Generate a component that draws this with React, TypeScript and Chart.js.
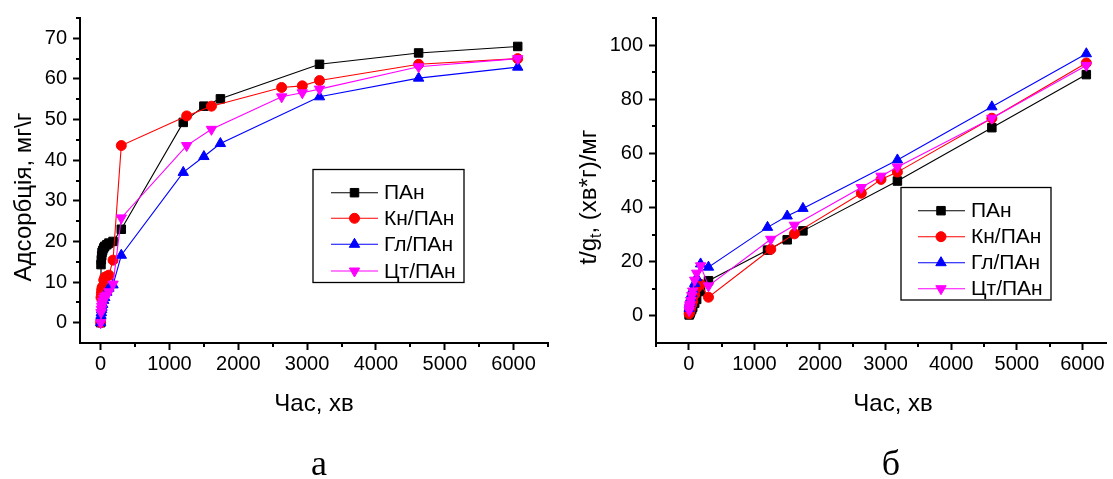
import React, { useEffect, useRef } from 'react';
import { Chart, registerables } from 'chart.js';

Chart.register(...registerables);

const SANS = '"Liberation Sans", Arial, sans-serif';
const SERIF = '"Liberation Serif", "Times New Roman", serif';

// ---------------- data ----------------
const seriesNames = ['ПАн', 'Кн/ПАн', 'Гл/ПАн', 'Цт/ПАн'];
const seriesColors = ['#000000', '#ff0000', '#0000ff', '#ff00ff'];
const seriesMarkers = ['square', 'circle', 'up', 'down'];

// panel а: adsorption (mg/g) vs time (min)
const timeSetA = [0, 5, 10, 15, 20, 30, 45, 60, 90, 120, 180, 300, 1200, 1500, 1740, 3180, 4620, 6060];
const timeSetB = [0, 5, 10, 15, 20, 30, 45, 60, 90, 120, 180, 300, 1250, 1610, 2630, 2930, 3180, 4620, 6060];
const adsPAn = [0, 14.3, 15.5, 16.5, 17.3, 17.8, 18.4, 18.8, 19.2, 19.6, 20.0, 23.0, 49.3, 53.3, 55.1, 63.6, 66.4, 68.0];
const adsKn = [0, 6.2, 7.2, 8.0, 8.6, 8.9, 10.5, 11.2, 11.4, 11.7, 15.4, 43.6, 50.9, 53.3, 57.9, 58.3, 59.6, 63.6, 65.0];
const adsGl = [0, 1.8, 2.5, 3.2, 3.8, 4.5, 5.5, 6.2, 7.5, 8.5, 9.3, 16.6, 37.0, 40.9, 44.1, 55.6, 60.2, 62.9];
const adsCt = [0, 2.5, 3.3, 4.0, 4.6, 5.3, 6.0, 6.5, 6.8, 7.6, 9.5, 25.8, 43.6, 47.6, 55.6, 56.6, 57.5, 63.0, 65.0];

// panel б: t/g_t vs time (min)
const ratioTimeA = [5, 10, 15, 20, 30, 45, 60, 90, 120, 180, 300, 1200, 1500, 1740, 3180, 4620, 6060];
const ratioTimeB = [5, 10, 15, 20, 30, 45, 60, 90, 120, 180, 300, 1250, 1610, 2630, 2930, 3180, 4620, 6060];
const ratioPAn = [0.35, 0.65, 0.9, 1.2, 1.7, 2.4, 3.2, 4.7, 6.1, 9.0, 13.0, 24.3, 28.1, 31.4, 49.8, 69.5, 89.1];
const ratioKn = [0.8, 1.4, 1.9, 2.3, 3.4, 4.3, 5.4, 7.9, 10.3, 11.7, 6.9, 24.6, 30.3, 45.3, 50.4, 53.1, 73.0, 93.4];
const ratioGl = [2.8, 4.0, 4.7, 5.3, 6.7, 8.2, 9.7, 12.0, 14.1, 19.2, 18.0, 32.7, 36.9, 39.7, 57.6, 77.2, 96.8];
const ratioCt = [2.0, 3.0, 3.8, 4.3, 5.7, 7.5, 9.2, 13.2, 15.8, 18.5, 11.1, 28.3, 33.5, 47.4, 51.6, 55.0, 73.0, 92.5];

// ticks
const xMajorTicks = [0, 1000, 2000, 3000, 4000, 5000, 6000];
const leftXMinor = [500, 1500, 2500, 3500, 4500, 5500, 6500];
const rightXMinor = [-500, 500, 1500, 2500, 3500, 4500, 5500];
const leftYTicks = [0, 10, 20, 30, 40, 50, 60, 70];
const leftYMinor = [5, 15, 25, 35, 45, 55, 65, 75];
const rightYTicks = [0, 20, 40, 60, 80, 100];
const rightYMinor = [10, 30, 50, 70, 90, 110];

// ---------------- helpers ----------------
function drawMarker(ctx: CanvasRenderingContext2D, kind: string, x: number, y: number, color: string) {
  ctx.save();
  ctx.fillStyle = color;
  ctx.strokeStyle = color;
  ctx.lineWidth = 1;
  ctx.beginPath();
  if (kind === 'square') {
    const s = 6 * Math.SQRT1_2;
    ctx.rect(x - s, y - s, 2 * s, 2 * s);
  } else if (kind === 'circle') {
    ctx.arc(x, y, 5, 0, Math.PI * 2);
  } else {
    const r = 6;
    let a = kind === 'up' ? 0 : Math.PI;
    for (let i = 0; i < 3; i++) {
      const px = x + Math.sin(a) * r;
      const py = y - Math.cos(a) * r;
      if (i === 0) ctx.moveTo(px, py);
      else ctx.lineTo(px, py);
      a += (2 * Math.PI) / 3;
    }
    ctx.closePath();
  }
  ctx.fill();
  ctx.stroke();
  ctx.restore();
}

function makeDataset(idx: number, xs: number[], ys: number[]) {
  const kind = seriesMarkers[idx];
  const color = seriesColors[idx];
  return {
    label: seriesNames[idx],
    data: xs.map((x, i) => ({ x, y: ys[i] })),
    borderColor: color,
    backgroundColor: color,
    borderWidth: 1.1,
    pointStyle: kind === 'square' ? 'rect' : kind === 'circle' ? 'circle' : 'triangle',
    pointRotation: kind === 'down' ? 180 : 0,
    pointRadius: kind === 'circle' ? 5 : 6,
    pointBackgroundColor: color,
    pointBorderColor: color,
    pointBorderWidth: 1,
    tension: 0,
    order: 3 - idx,
    clip: false,
  };
}

type PanelCfg = {
  width: number;
  height: number;
  left: number;
  areaLeft: number;
  areaRight: number;
  areaTop: number;
  areaBottom: number;
  xMin: number;
  xMax: number;
  yMin: number;
  yMax: number;
  yTicks: number[];
  xMinor: number[];
  yMinor: number[];
  datasets: any[];
  xTitleX: number;
  yTitleX: number;
  yTitleY: number;
  yTitle: 'ads' | 'ratio';
  legend: { x: number; y: number; w: number; h: number; lx1: number; lx2: number; mx: number; tx: number; rows: number[] };
  caption: string;
  captionX: number;
};

function makePlugin(cfg: PanelCfg) {
  return {
    id: 'panelDecor',
    afterDraw(chart: any) {
      const ctx: CanvasRenderingContext2D = chart.ctx;
      const xs = chart.scales.x;
      const ys = chart.scales.y;
      const { left, bottom } = chart.chartArea;
      ctx.save();
      // minor ticks
      ctx.strokeStyle = '#000';
      ctx.lineWidth = 2;
      ctx.beginPath();
      cfg.xMinor.forEach((v) => {
        const p = Math.round(xs.getPixelForValue(v));
        ctx.moveTo(p, bottom);
        ctx.lineTo(p, bottom + 4);
      });
      cfg.yMinor.forEach((v) => {
        const p = Math.round(ys.getPixelForValue(v));
        ctx.moveTo(left, p);
        ctx.lineTo(left - 4, p);
      });
      ctx.stroke();

      // x title
      ctx.fillStyle = '#000';
      ctx.font = '24px ' + SANS;
      ctx.textAlign = 'center';
      ctx.textBaseline = 'alphabetic';
      ctx.fillText('Час, хв', cfg.xTitleX, 411);

      // y title
      ctx.save();
      ctx.translate(cfg.yTitleX, cfg.yTitleY);
      ctx.rotate(-Math.PI / 2);
      ctx.textBaseline = 'alphabetic';
      if (cfg.yTitle === 'ads') {
        ctx.font = '24px ' + SANS;
        ctx.textAlign = 'center';
        ctx.fillText('Адсорбція, мг\\г', 0, 0);
      } else {
        ctx.textAlign = 'left';
        const big = '24px ' + SANS;
        const small = '16px ' + SANS;
        ctx.font = big;
        const w1 = ctx.measureText('t/g').width;
        const w3 = ctx.measureText(', (хв*г)/мг').width;
        ctx.font = small;
        const w2 = ctx.measureText('t').width;
        let x = -(w1 + w2 + w3) / 2;
        ctx.font = big;
        ctx.fillText('t/g', x, 0);
        x += w1;
        ctx.font = small;
        ctx.fillText('t', x, 5);
        x += w2;
        ctx.font = big;
        ctx.fillText(', (хв*г)/мг', x, 0);
      }
      ctx.restore();

      // legend
      const L = cfg.legend;
      ctx.fillStyle = '#fff';
      ctx.fillRect(L.x, L.y, L.w, L.h);
      ctx.strokeStyle = '#000';
      ctx.lineWidth = 1.3;
      ctx.strokeRect(L.x, L.y, L.w, L.h);
      L.rows.forEach((ry, i) => {
        ctx.strokeStyle = seriesColors[i];
        ctx.lineWidth = 1.1;
        ctx.beginPath();
        ctx.moveTo(L.lx1, ry);
        ctx.lineTo(L.lx2, ry);
        ctx.stroke();
        drawMarker(ctx, seriesMarkers[i], L.mx, ry, seriesColors[i]);
        ctx.fillStyle = '#000';
        ctx.font = '21px ' + SANS;
        ctx.textAlign = 'left';
        ctx.textBaseline = 'middle';
        ctx.fillText(seriesNames[i], L.tx, ry + 1);
      });

      // caption
      ctx.fillStyle = '#000';
      ctx.font = '36px ' + SERIF;
      ctx.textAlign = 'center';
      ctx.textBaseline = 'alphabetic';
      ctx.fillText(cfg.caption, cfg.captionX, 475);
      ctx.restore();
    },
  };
}

function Panel({ cfg }: { cfg: PanelCfg }) {
  const ref = useRef<HTMLCanvasElement | null>(null);
  useEffect(() => {
    if (!ref.current) return;
    const chart = new Chart(ref.current, {
      type: 'line',
      data: { datasets: cfg.datasets },
      options: {
        animation: false,
        responsive: false,
        devicePixelRatio: 1,
        layout: { padding: { left: 0, top: cfg.areaTop, right: cfg.width - cfg.areaRight, bottom: 0 } },
        plugins: { legend: { display: false }, tooltip: { enabled: false }, title: { display: false } },
        scales: {
          x: {
            type: 'linear',
            min: cfg.xMin,
            max: cfg.xMax,
            afterBuildTicks: (s: any) => {
              s.ticks = xMajorTicks.map((v) => ({ value: v }));
            },
            afterFit: (s: any) => {
              s.height = cfg.height - cfg.areaBottom;
            },
            ticks: {
              font: { family: SANS, size: 20 },
              color: '#000',
              padding: 2,
              maxRotation: 0,
              autoSkip: false,
              callback: (v: any) => String(v),
            },
            grid: { display: true, drawOnChartArea: false, drawTicks: true, tickLength: 7, tickWidth: 2, tickColor: '#000', color: '#000' },
            border: { display: true, color: '#000', width: 2 },
          },
          y: {
            type: 'linear',
            min: cfg.yMin,
            max: cfg.yMax,
            afterBuildTicks: (s: any) => {
              s.ticks = cfg.yTicks.map((v) => ({ value: v }));
            },
            afterFit: (s: any) => {
              s.width = cfg.areaLeft;
            },
            ticks: {
              font: { family: SANS, size: 20 },
              color: '#000',
              padding: 6,
              autoSkip: false,
              callback: (v: any) => String(v),
            },
            grid: { display: true, drawOnChartArea: false, drawTicks: true, tickLength: 7, tickWidth: 2, tickColor: '#000', color: '#000' },
            border: { display: true, color: '#000', width: 2 },
          },
        },
      } as any,
      plugins: [makePlugin(cfg)],
    });
    return () => chart.destroy();
  }, [cfg]);
  return (
    <canvas
      ref={ref}
      width={cfg.width}
      height={cfg.height}
      style={{ position: 'absolute', left: cfg.left, top: 0, width: cfg.width, height: cfg.height }}
    />
  );
}

const leftCfg: PanelCfg = {
  width: 556,
  height: 479,
  left: 0,
  areaLeft: 80,
  areaRight: 548,
  areaTop: 10,
  areaBottom: 343,
  xMin: -300,
  xMax: 6500,
  yMin: -5,
  yMax: 75,
  yTicks: leftYTicks,
  xMinor: leftXMinor,
  yMinor: leftYMinor,
  datasets: [
    makeDataset(0, timeSetA, adsPAn),
    makeDataset(1, timeSetB, adsKn),
    makeDataset(2, timeSetA, adsGl),
    makeDataset(3, timeSetB, adsCt),
  ],
  xTitleX: 314,
  yTitleX: 31,
  yTitleY: 197,
  yTitle: 'ads',
  legend: { x: 313, y: 169.5, w: 151, h: 113, lx1: 331, lx2: 378, mx: 354.5, tx: 384, rows: [192.7, 218.3, 244.3, 271] },
  caption: 'а',
  captionX: 319,
};

const rightCfg: PanelCfg = {
  width: 557,
  height: 479,
  left: 556,
  areaLeft: 100,
  areaRight: 557,
  areaTop: 11,
  areaBottom: 343,
  xMin: -500,
  xMax: 6360,
  yMin: -10,
  yMax: 110,
  yTicks: rightYTicks,
  xMinor: rightXMinor,
  yMinor: rightYMinor,
  datasets: [
    makeDataset(0, ratioTimeA, ratioPAn),
    makeDataset(1, ratioTimeB, ratioKn),
    makeDataset(2, ratioTimeA, ratioGl),
    makeDataset(3, ratioTimeB, ratioCt),
  ],
  xTitleX: 337,
  yTitleX: 40,
  yTitleY: 197,
  yTitle: 'ratio',
  legend: { x: 345, y: 187.5, w: 150, h: 112.5, lx1: 362, lx2: 409, mx: 385, tx: 415, rows: [210.7, 236.7, 262.7, 288.7] },
  caption: 'б',
  captionX: 335,
};

export default function App() {
  return (
    <div
      style={{
        position: 'fixed',
        left: 0,
        top: 0,
        width: 1113,
        height: 479,
        overflow: 'hidden',
        background: '#fff',
      }}
    >
      <Panel cfg={leftCfg} />
      <Panel cfg={rightCfg} />
    </div>
  );
}
